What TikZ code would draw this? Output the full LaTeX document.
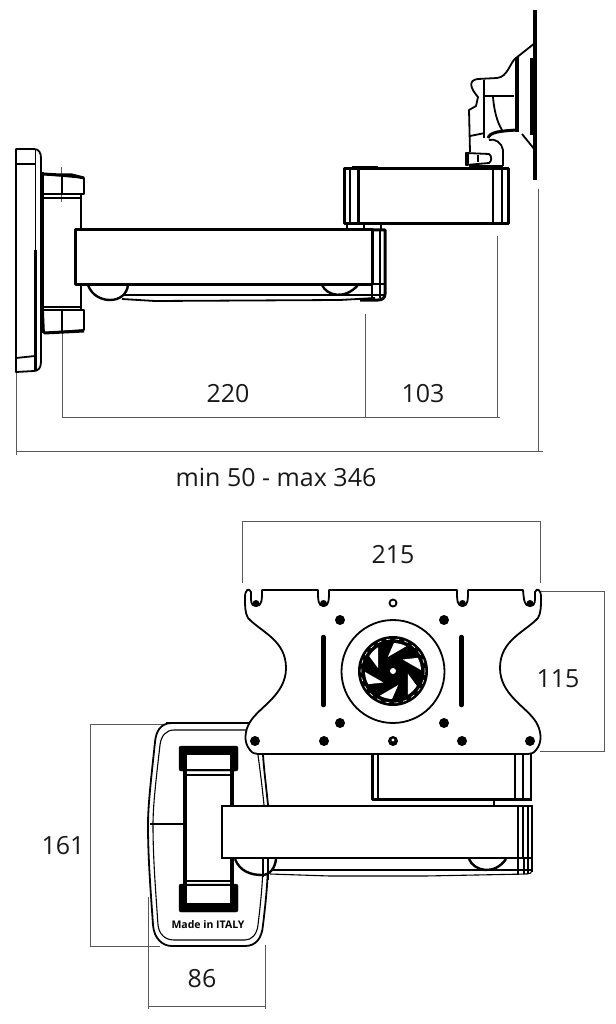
\documentclass[tikz,border=0pt]{standalone}
\usepackage{fontspec}
\setmainfont{Open Sans}
\begin{document}
\begin{tikzpicture}[x=1pt,y=-1pt,
  dim/.style={draw=black!65,line width=0.9pt},
  thin part/.style={draw=black,line width=1.1pt},
  part/.style={draw=black,line width=1.8pt,line join=round},
  heavy/.style={draw=black,line width=3pt,line join=round},
  lab/.style={font=\fontsize{25}{27}\selectfont,text=black!90,inner sep=0pt},
  hole/.style={fill=black,draw=none}]
\useasboundingbox (0,0) rectangle (615,1024);
% --- top view: dimension lines
\draw[dim] (16,372)--(16,455) (16,451)--(543,451);
\draw[dim] (62,333)--(62,417) (62,417)--(500,417);
\draw[dim] (365.5,314)--(365.5,417);
\draw[dim] (497,236)--(497,417);
\draw[dim] (538,189)--(538,451);
\draw[dim] (61,167)--(61,202);
% wall plate
\draw[part,fill=white] (16,149)--(34,149) .. controls (39,149) and (41,153) .. (41,158) -- (41,362) .. controls (41,368) and (38,371) .. (34,371) -- (16,372) -- cycle;
\draw[part] (16,164)--(35,164) (16,358)--(35,356);
\draw[thin part] (35.5,150)--(35.5,250);
\draw[part,line width=2.2pt] (35.5,250)--(35.5,371);
\draw[heavy,line width=2.4pt] (41,160)--(41,362);
% bracket
\draw[part,line width=2.2pt] (42.5,172)--(42.5,333);
\draw[part,fill=white] (43,174)--(84,178)--(84,194)--(43,194)--cycle;
\draw[heavy] (43,174)--(60,175)--(72,175)--(84,178);
\draw[thin part] (62,176)--(62,194) (43,198)--(81,198) (81,194)--(81,232) (81,284)--(81,310) (43,307)--(81,307);
\draw[part,fill=white] (43,310)--(84,310)--(84,330)--(44,333)--cycle;
\draw[heavy] (84,331)--(44,333);
\draw[thin part] (62,310)--(62,331);
% lower arm
\draw[thin part] (122,295)--(385,295);
\draw[part] (122,299)--(155,301)--(340,300)--(375,298);
\draw[heavy,line width=2.4pt,fill=white] (88,285) .. controls (92,296) and (102,300) .. (110,300) .. controls (120,300) and (127,294) .. (128,285);
\draw[heavy,line width=2.4pt,fill=white] (322,285) .. controls (327,296) and (345,300) .. (358,285);
\draw[heavy,fill=white] (75,230) rectangle (372,284);
\draw[heavy] (372,230)--(385,230)--(385,294) .. controls (385,298) and (382,300) .. (378,300)--(360,300);
\draw[thin part] (380,230)--(380,298);
\draw[part] (372,230)--(372,300) (345,284)--(385,284);
% upper arm
\draw[part] (347,224)--(347,230) (381,224)--(381,230) (364,224)--(364,229);
\draw[heavy,fill=white] (344,169) rectangle (508,224);
\draw[part] (350,169)--(350,224) (493,169)--(493,224) (502,169)--(502,224);
\draw[heavy] (358,169)--(358,224);
\draw[heavy,line width=4pt] (352,168)--(378,168);
% tilt head
\draw[heavy,line width=3.6pt] (535,10)--(535,180);
\draw[heavy,line width=3pt] (531,58)--(531,135);
\draw[part] (535,43)--(516,58) .. controls (510,62) and (508,77) .. (497,78) -- (478,79) .. controls (468,80) and (470,88) .. (478,97) -- (476,106) -- (469,110) -- (470,152);
\draw[part] (535,150)--(522,134) (503,166) -- (503,150) .. controls (502,143) and (495,138) .. (489,140);
\draw[heavy,line width=4pt] (517,57)--(517,132);
\draw[thin part] (484,80)--(484,138) (484,96)--(514,96);
\draw[part] (493,97) .. controls (494,110) and (497,122) .. (502,130);
\draw[part] (470,136)--(485,133);
\draw[heavy] (488,138) .. controls (490,132) and (500,131) .. (517,130);
\draw[part,fill=white] (466,153)--(489,154) .. controls (492,156) and (492,161) .. (489,163)--(466,165)--cycle;
\draw[heavy,line width=4.5pt,line cap=round] (467,155)--(467,163);
\draw[part] (478,155)--(478,162) (469,166)--(503,166);
% labels top
\node[lab] (d220) at (228,394) {220};
\node[lab] (d103) at (423,394) {103};
\node[lab] (dminmax) at (276,477) {min 50 - max 346};
% --- bottom view: dimension lines
\draw[dim] (242,583)--(242,521)--(540,521)--(540,583);
\draw[dim] (540,591)--(604,591)--(604,751)--(540,751);
\draw[dim] (165,724)--(90,724)--(90,946)--(160,946);
\draw[dim] (148,897)--(148,1009) (265,945)--(265,1009) (148,1006)--(265,1006);
\node[lab] (d215) at (393,555) {215};
\node[lab] (d115) at (558,679) {115};
\node[lab] (d161) at (63,846) {161};
\node[lab] (d86) at (202,979) {86};
% base plate
\draw[part,fill=white] (250,723)--(172,723) .. controls (160,723) and (156,732) .. (155,742) .. controls (151,780) and (148,805) .. (148,825) .. controls (148,860) and (151,895) .. (153,925) .. controls (154,938) and (162,946) .. (172,946) -- (245,946) .. controls (256,946) and (262,938) .. (263,925) .. controls (266,900) and (268,880) .. (268,858) -- (268,805) .. controls (266,785) and (264,770) .. (263,755);
\draw[thin part] (250,730)--(174,730) .. controls (166,730) and (161,736) .. (160,745) .. controls (156,780) and (153,805) .. (153,825) .. controls (153,860) and (156,895) .. (158,925) .. controls (159,934) and (165,940) .. (174,940) -- (245,940) .. controls (252,940) and (257,934) .. (258,925) .. controls (261,900) and (263,880) .. (263,858) -- (264,805) .. controls (262,785) and (260,770) .. (258,755);
\draw[heavy,line width=2.4pt] (166,723)--(250,723);
\draw[part] (150,824)--(184,824);
% inner bracket
\draw[heavy,line width=3.5pt] (185,770)--(185,885) (232,770)--(232,885);
\draw[thin part] (186,775)--(231,775) (186,881)--(231,881);
\draw[fill=black,rounded corners=2pt] (179,746) rectangle (238,771);
\draw[fill=white,draw=none] (187,755) rectangle (230,769);
\draw[fill=black,rounded corners=2pt] (179,884) rectangle (238,912);
\draw[fill=white,draw=none] (187,886) rectangle (230,903);
\node[inner sep=0pt,font=\fontsize{10.5}{11}\selectfont\bfseries,text=black] (mit) at (208,925) {Made in ITALY};
% upper arm, bottom view
\draw[heavy,fill=white] (372,754)--(372,799)--(532,799);
\draw[part] (378,754)--(378,798);
\draw[thin part] (515,754)--(515,798) (523,754)--(523,798) (531,754)--(531,800) (494,800)--(494,806);
% lower arm, bottom view
\draw[part] (268,870)--(532,870);
\draw[thin part] (270,874)--(330,876)--(425,876)--(527,874) .. controls (530,874) and (532,873) .. (532,870);
\draw[heavy,line width=2.4pt,fill=white] (235,859) .. controls (240,872) and (252,875) .. (262,875) .. controls (270,875) and (275,868) .. (276,859);
\draw[heavy,line width=2.4pt,fill=white] (469,859) .. controls (474,871) and (494,876) .. (506,859);
\draw[thin part] (518,858)--(518,875) (524,858)--(524,874) (528,858)--(528,874) (532,858)--(532,872);
\draw[part] (263,859)--(263,877) (268,859)--(268,880);
\draw[thin part,fill=white] (222,806) rectangle (532,858);
\draw[heavy,line width=2.2pt] (222,806)--(532,806) (222,858)--(532,858);
\draw[thin part] (518,806)--(518,858) (523,806)--(523,858) (528,806)--(528,858);
% mounting plate
\draw[part,fill=white]
 (262,590) -- (318,590)
 .. controls (318,600) and (318,606) .. (323.5,606)
 .. controls (329,606) and (329,600) .. (329,590)
 -- (457,590)
 .. controls (457,600) and (457,606) .. (462.5,606)
 .. controls (468,606) and (468,600) .. (468,590)
 -- (523,590)
 .. controls (524,600) and (524,606) .. (530,606)
 .. controls (536,606) and (535,600) .. (535,592)
 .. controls (537,587) and (541,590) .. (541,597)
 .. controls (541,606) and (541,613) .. (538,618)
 .. controls (525,632) and (500,640) .. (500,668)
 .. controls (500,695) and (527,707) .. (536,722)
 .. controls (541,730) and (543,742) .. (536,750)
 .. controls (534,753) and (531,754) .. (528,754)
 -- (258,754)
 .. controls (255,754) and (252,753) .. (250,750)
 .. controls (243,742) and (245,730) .. (250,722)
 .. controls (259,707) and (286,695) .. (286,668)
 .. controls (286,640) and (261,632) .. (248,618)
 .. controls (245,613) and (245,606) .. (245,597)
 .. controls (245,590) and (249,587) .. (251,592)
 .. controls (251,600) and (250,606) .. (256,606)
 .. controls (262,606) and (262,600) .. (262,590) -- cycle;
% filled notch bottoms
\foreach \nx in {256,323.5,462.5,530}
  \fill (\nx,603.5) circle[radius=3.5];
\foreach \px/\py in {340/620,444/620,340/723,444/723,255/741,324/741,393/741,462/741,530/741}
  \fill[hole] (\px,\py) circle[radius=5];
\fill[white] (393,740) circle[radius=1.6];
\draw[part] (393,603) circle[radius=3.5];
\draw[line width=4.5pt,line cap=round] (323.5,637)--(323.5,705) (461.5,637)--(461.5,705);
\draw[part] (393,671.5) circle[radius=51.5];
% aperture
\fill[black] (393,671) circle[radius=35];
\begin{scope}[shift={(393,671)}]
\foreach \a in {10,70,130,190,250,310}
  \fill[white] (\a:15) -- (\a+22:28) arc[start angle=\a+22,end angle=\a+48,radius=28] -- cycle;
\draw[white,line width=0.6pt,dash pattern=on 4pt off 5pt] (0,0) circle[radius=32];
\fill[white] (0,0) circle[radius=3];
\end{scope}
\end{tikzpicture}
\end{document}
